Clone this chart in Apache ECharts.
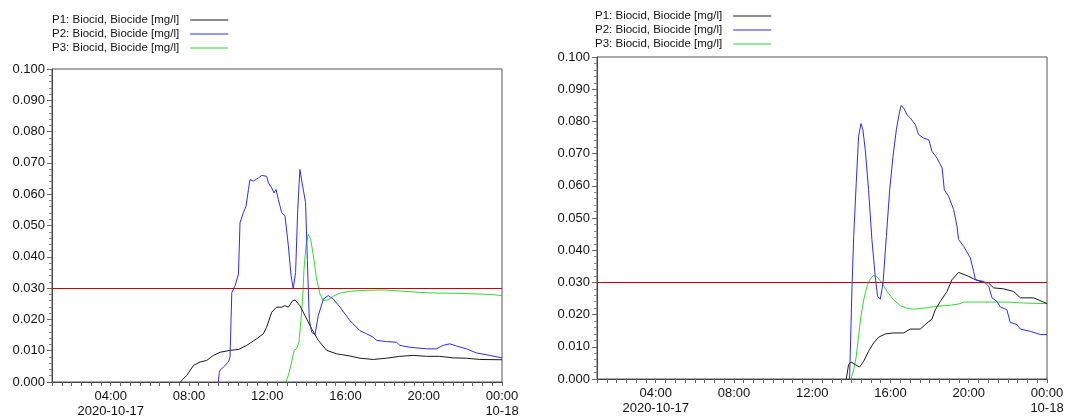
<!DOCTYPE html>
<html>
<head>
<meta charset="utf-8">
<script src="https://cdn.jsdelivr.net/npm/echarts@6/dist/echarts.min.js"></script>
<style>
html,body{margin:0;padding:0;background:#fff;}
#c{width:1077px;height:419px;}
</style>
</head>
<body>
<div id="c"></div>
<script>
// ---- data (x = hours since 2020-10-17 00:00, y = mg/l) ----
const seriesNames = ['P1: Biocid, Biocide [mg/l]', 'P2: Biocid, Biocide [mg/l]', 'P3: Biocid, Biocide [mg/l]'];
const limitValue = [0.030];
const xTickLabels = [4, 8, 12, 16, 20, 24];
const dateLabels = { 4: '2020-10-17', 24: '10-18' };

const leftP1 = [[7.55,0],[7.89,0.0021],[8.23,0.0053],[8.57,0.0064],[8.91,0.0069],[9.25,0.0085],[9.59,0.0095],[10.1,0.0101],[10.53,0.0104],[10.95,0.0117],[11.46,0.0138],[11.8,0.0154],[11.97,0.0175],[12.23,0.0223],[12.48,0.0239],[12.74,0.0239],[12.9,0.0244],[13.08,0.0239],[13.3,0.026],[13.42,0.0262],[13.67,0.0244],[13.93,0.0212],[14.27,0.017],[14.61,0.0133],[15.04,0.0101],[15.55,0.009],[16.23,0.0083],[16.74,0.0076],[17.42,0.0072],[18.1,0.0076],[18.78,0.0082],[19.46,0.0085],[20.14,0.0082],[20.82,0.0082],[21.5,0.0077],[22.18,0.0076],[22.86,0.0072],[24,0.0071]];
const leftP2 = [[9.5,0],[9.55,0.003],[9.59,0.0037],[9.76,0.0048],[10.02,0.0064],[10.1,0.008],[10.19,0.0286],[10.36,0.0308],[10.53,0.0345],[10.61,0.0509],[10.78,0.0541],[10.92,0.0562],[11.04,0.0615],[11.12,0.0647],[11.29,0.0642],[11.55,0.0652],[11.72,0.066],[11.97,0.0657],[12.06,0.0636],[12.23,0.062],[12.35,0.0604],[12.45,0.0615],[12.57,0.0583],[12.74,0.0541],[12.91,0.053],[13.08,0.0435],[13.22,0.0339],[13.33,0.0299],[13.45,0.035],[13.56,0.0551],[13.67,0.0679],[13.81,0.0626],[13.96,0.0573],[14.05,0.0392],[14.15,0.0201],[14.27,0.0159],[14.44,0.0151],[14.61,0.0212],[14.87,0.0265],[15.12,0.0276],[15.38,0.0265],[15.72,0.0239],[16.23,0.0196],[16.74,0.0164],[17.08,0.0154],[17.42,0.0143],[17.59,0.0133],[18.1,0.0129],[18.61,0.0127],[18.78,0.0117],[19.29,0.0111],[20.14,0.0106],[20.65,0.0106],[20.99,0.0117],[21.33,0.0122],[21.67,0.0115],[22.18,0.0106],[22.69,0.0093],[23.37,0.0085],[24,0.0077]];
const leftP3 = [[12.96,0],[13.08,0.0021],[13.25,0.0064],[13.37,0.0101],[13.5,0.0106],[13.62,0.0127],[13.73,0.0201],[13.81,0.0265],[13.88,0.0361],[13.98,0.0435],[14.1,0.0472],[14.22,0.0456],[14.39,0.0392],[14.52,0.0329],[14.7,0.0281],[14.87,0.026],[15.12,0.0263],[15.38,0.0274],[15.72,0.0284],[16.23,0.029],[17.08,0.0293],[17.93,0.0294],[18.78,0.0291],[19.8,0.0286],[20.82,0.0284],[21.84,0.0283],[22.86,0.0281],[23.54,0.0279],[24,0.0276]];

const rightP1 = [[13.74,0],[13.86,0.0045],[13.98,0.0053],[14.2,0.0045],[14.42,0.0037],[14.63,0.0055],[14.88,0.0086],[15.14,0.0112],[15.4,0.013],[15.74,0.014],[16.16,0.0143],[16.67,0.0143],[17.01,0.0155],[17.52,0.0155],[17.87,0.0174],[18.12,0.0186],[18.29,0.0215],[18.55,0.0241],[18.89,0.0272],[19.14,0.0308],[19.48,0.0331],[19.91,0.0321],[20.25,0.0311],[20.59,0.0303],[21.02,0.0298],[21.27,0.0283],[21.78,0.028],[22.29,0.0272],[22.64,0.0252],[23.32,0.0252],[23.74,0.0241],[24,0.0234]];
const rightP2 = [[13.91,0],[14.03,0.0277],[14.12,0.0443],[14.25,0.0609],[14.37,0.0754],[14.49,0.0793],[14.59,0.0774],[14.71,0.0712],[14.88,0.0588],[15.05,0.0433],[15.22,0.0319],[15.34,0.0257],[15.48,0.0248],[15.62,0.0298],[15.79,0.0443],[15.96,0.0588],[16.13,0.0692],[16.3,0.0774],[16.42,0.0816],[16.54,0.0849],[16.67,0.0842],[16.84,0.0821],[17.01,0.0811],[17.27,0.079],[17.44,0.0759],[17.7,0.0748],[17.96,0.0743],[18.12,0.0707],[18.38,0.0686],[18.64,0.0655],[18.75,0.0588],[18.97,0.0567],[19.23,0.0526],[19.4,0.0474],[19.48,0.0433],[19.74,0.0412],[20.08,0.0376],[20.25,0.0334],[20.34,0.0308],[20.76,0.0303],[21.02,0.0288],[21.19,0.0252],[21.44,0.0241],[21.61,0.0224],[21.95,0.0215],[22.12,0.0176],[22.46,0.0169],[22.64,0.0155],[23.15,0.0148],[23.66,0.0138],[24,0.0138]];
const rightP3 = [[13.98,0],[14.12,0.0029],[14.25,0.007],[14.37,0.0133],[14.49,0.0195],[14.63,0.0246],[14.8,0.0288],[14.97,0.0311],[15.14,0.0322],[15.31,0.0317],[15.57,0.0298],[15.82,0.0272],[16.16,0.0246],[16.5,0.0228],[16.84,0.022],[17.18,0.0217],[17.7,0.022],[18.38,0.0226],[19.06,0.0229],[19.57,0.0234],[19.74,0.0239],[20.25,0.0239],[21.95,0.0239],[22.81,0.0236],[24,0.0234]];

// ---- chart ----
const colors = ['#1a1a1a', '#2b2bff', '#2edc2e'];
const FONT = 'Liberation Sans, Arial, sans-serif';
const halfHours = [];
for (let h = 1; h <= 24; h += 0.5) halfHours.push(h);

function pad(n){ return (n < 10 ? '0' : '') + n; }
function xFmt(v){
  const h = Math.round(v) % 24;
  const t = pad(h) + ':00';
  return dateLabels[Math.round(v)] ? t + '\n' + dateLabels[Math.round(v)] : t;
}

function makeX(idx){
  return {
    type: 'value', gridIndex: idx, min: 1, max: 24,
    splitLine: { show: false },
    axisLine: { show: true, lineStyle: { color: '#444', width: 1 } },
    axisTick: { show: true, customValues: halfHours, length: 4, lineStyle: { color: '#666' } },
    axisLabel: { customValues: xTickLabels, formatter: xFmt, color: '#111', fontFamily: FONT, fontSize: 13, lineHeight: 15, margin: 7, showMinLabel: true, showMaxLabel: true }
  };
}
function makeY(idx){
  return {
    type: 'value', gridIndex: idx, min: 0, max: 0.1, interval: 0.01,
    splitLine: { show: false },
    axisLine: { show: true, lineStyle: { color: '#444', width: 1 } },
    axisTick: { show: true, length: 5, lineStyle: { color: '#666' } },
    minorTick: { show: true, splitNumber: 5, length: 3, lineStyle: { color: '#888' } },
    axisLabel: { formatter: v => v.toFixed(3), color: '#111', fontFamily: FONT, fontSize: 13, margin: 7 }
  };
}
function makeLegend(left, top){
  return {
    left: left, top: top, orient: 'vertical', align: 'right', padding: 0,
    itemWidth: 38, itemHeight: 8, itemGap: 0,
    icon: 'path://M0,0 L38,0 L38,1 L0,1 Z',
    data: seriesNames.map((n, i) => ({ name: n, itemStyle: { color: colors[i] } })),
    textStyle: { fontFamily: FONT, fontSize: 11.5, color: '#111', lineHeight: 14, padding: [0, 6, 0, 0] },
    selectedMode: false
  };
}
function makeSeries(data, i, grid, withLimit){
  const s = {
    name: seriesNames[i], type: 'line', data: data,
    xAxisIndex: grid, yAxisIndex: grid,
    symbol: 'none', smooth: false, animation: false,
    lineStyle: { color: colors[i], width: 1 }, itemStyle: { color: colors[i] }
  };
  if (withLimit) {
    s.markLine = { silent: true, symbol: 'none', animation: false, label: { show: false },
      lineStyle: { color: '#cc0000', width: 1.2, type: 'solid' },
      data: limitValue.map(v => ({ yAxis: v })) };
  }
  return s;
}

const chart = echarts.init(document.getElementById('c'), null, { renderer: 'canvas' });
chart.setOption({
  animation: false,
  backgroundColor: '#fff',
  legend: [makeLegend(52, 13), makeLegend(595, 9)],
  grid: [
    { left: 52, top: 69, width: 450, height: 314, show: true, borderColor: '#555', borderWidth: 1, backgroundColor: 'transparent' },
    { left: 597, top: 57, width: 450, height: 322, show: true, borderColor: '#555', borderWidth: 1, backgroundColor: 'transparent' }
  ],
  xAxis: [makeX(0), makeX(1)],
  yAxis: [makeY(0), makeY(1)],
  series: [
    makeSeries(leftP3, 2, 0, false),
    makeSeries(leftP1, 0, 0, true),
    makeSeries(leftP2, 1, 0, false),
    makeSeries(rightP3, 2, 1, false),
    makeSeries(rightP1, 0, 1, true),
    makeSeries(rightP2, 1, 1, false)
  ]
});
</script>
</body>
</html>
